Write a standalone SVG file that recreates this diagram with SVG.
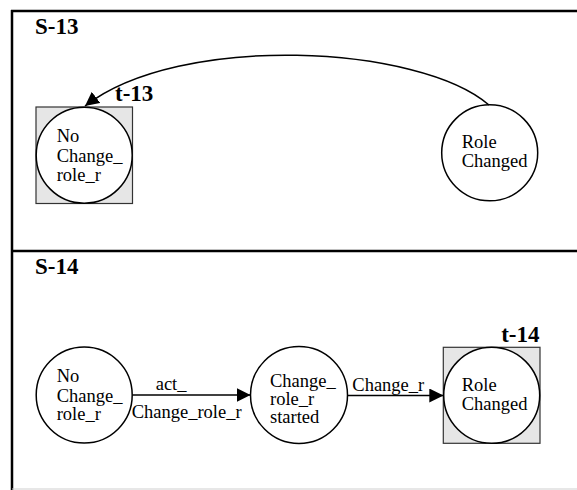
<svg xmlns="http://www.w3.org/2000/svg" width="577" height="490" viewBox="0 0 577 490">
  <style>
    .frame { stroke: #000; stroke-width: 2.5; fill: none; }
    .state { fill: #fff; stroke: #000; stroke-width: 1.5; }
    .target { fill: #e6e6e6; stroke: #333; stroke-width: 1.2; }
    .lbl { font-family: "Liberation Serif", "Times New Roman", serif; font-size: 18.5px; fill: #000; }
    .title { font-family: "Liberation Serif", "Times New Roman", serif; font-size: 23px; font-weight: bold; fill: #000; }
    .edge { stroke: #000; stroke-width: 1.5; fill: none; }
  </style>
  <defs>
    <marker id="arrow" viewBox="0 0 14 14" refX="14" refY="7" markerWidth="14" markerHeight="14" markerUnits="userSpaceOnUse" orient="auto">
      <path d="M0,0 L14,7 L0,14 Z" fill="#000"/>
    </marker>
  </defs>

  <rect width="577" height="490" fill="#fff"/>

  <!-- swimlane frame -->
  <g id="frame">
    <line class="frame" x1="11" y1="11" x2="577" y2="11"/>
    <line class="frame" x1="12" y1="10" x2="12" y2="490"/>
    <line class="frame" x1="12" y1="251" x2="577" y2="251"/>
    <line x1="12" y1="489" x2="577" y2="489" stroke="#cfcfcf" stroke-width="1.2"/>
    <text class="title" x="35" y="34">S-13</text>
    <text class="title" x="35" y="274">S-14</text>
  </g>

  <!-- S-13 -->
  <g id="s13-no-change">
    <rect class="target" x="36" y="107" width="96.5" height="96.5"/>
    <circle class="state" cx="84.2" cy="155.2" r="48"/>
    <text class="lbl" x="56.7" y="141.7">No</text>
    <text class="lbl" x="56.7" y="161.5">Change_</text>
    <text class="lbl" x="56.7" y="180.5">role_r</text>
    <text class="title" x="115" y="101">t-13</text>
  </g>

  <g id="s13-role-changed">
    <circle class="state" cx="489.7" cy="152.8" r="48"/>
    <text class="lbl" x="461.7" y="148.3">Role</text>
    <text class="lbl" x="461.7" y="167.3">Changed</text>
  </g>

  <!-- S-14 -->
  <g id="s14-no-change">
    <circle class="state" cx="84.2" cy="395" r="48"/>
    <text class="lbl" x="56.7" y="381.7">No</text>
    <text class="lbl" x="56.7" y="401.5">Change_</text>
    <text class="lbl" x="56.7" y="420">role_r</text>
  </g>

  <g id="s14-started">
    <circle class="state" cx="299" cy="395" r="48.5"/>
    <text class="lbl" x="270" y="386.5">Change_</text>
    <text class="lbl" x="270" y="404.5">role_r</text>
    <text class="lbl" x="270" y="422.5">started</text>
  </g>

  <g id="s14-role-changed">
    <rect class="target" x="443.3" y="347.3" width="96.7" height="96"/>
    <circle class="state" cx="491.7" cy="395.3" r="48"/>
    <text class="lbl" x="461.7" y="390.7">Role</text>
    <text class="lbl" x="461.7" y="410">Changed</text>
    <text class="title" x="539.5" y="341.7" text-anchor="end">t-14</text>
  </g>

  <!-- transitions -->
  <g id="connectors">
    <path class="edge" d="M489,105 C420,45 180,32 85,106" marker-end="url(#arrow)"/>
    <line class="edge" x1="132.5" y1="395" x2="250.5" y2="395" marker-end="url(#arrow)"/>
    <text class="lbl" x="155.7" y="390">act_</text>
    <text class="lbl" x="131.7" y="418">Change_role_r</text>
    <line class="edge" x1="347.5" y1="395.5" x2="443.3" y2="395.5" marker-end="url(#arrow)"/>
    <text class="lbl" x="352.3" y="390.7">Change_r</text>
  </g>
</svg>
